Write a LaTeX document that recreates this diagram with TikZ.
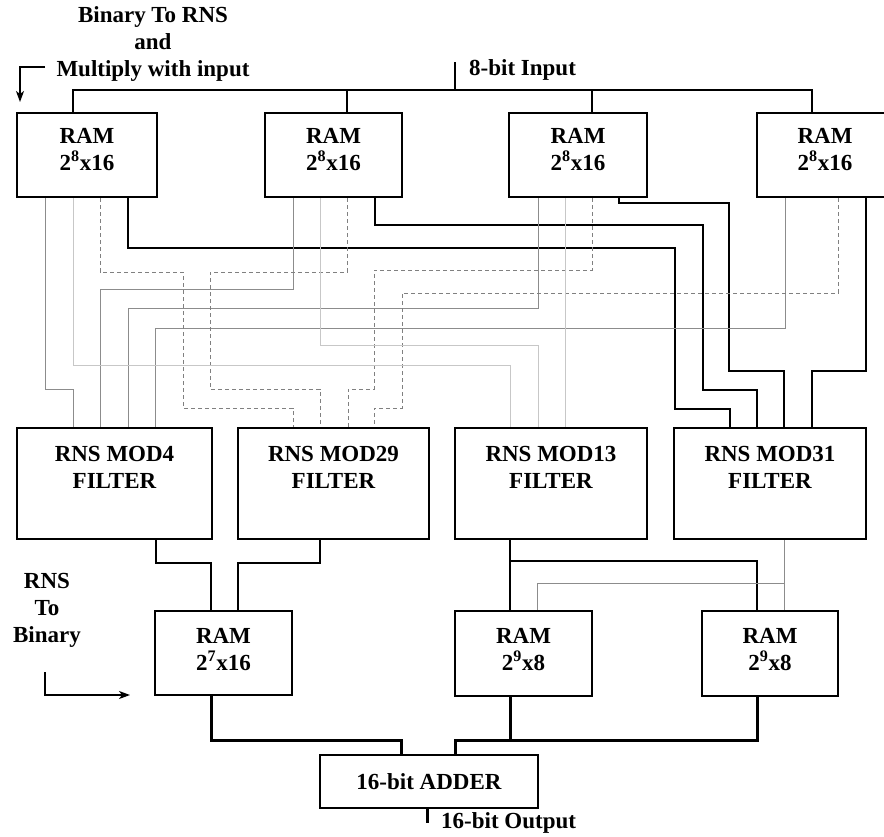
\documentclass[tikz,border=0pt]{standalone}
\usepackage{fontspec}
\setmainfont{Liberation Serif}
\usetikzlibrary{arrows.meta}
\begin{document}
\begin{tikzpicture}[x=1pt,y=-1pt,
  box/.style={draw=black, line width=2.2pt, inner sep=0pt},
  lbl/.style={font=\fontsize{23}{27}\selectfont\bfseries, align=center, inner sep=0pt},
  bus/.style={draw, line width=1.8pt},
  thk/.style={draw, line width=2pt},
  gry/.style={draw=black!45, line width=1pt},
  fnt/.style={draw=black!22, line width=0.9pt},
  dsh/.style={draw=black!50, line width=1pt, dash pattern=on 4pt off 3pt},
  outw/.style={draw, line width=3pt},
  arr/.style={draw, line width=1.4pt, -{Stealth[length=11pt,width=8pt,inset=3pt]}}
]
\clip (0,0) rectangle (884,836);
\fill[white] (0,0) rectangle (884,836);

% ---------- boxes ----------
\node[box, minimum width=140pt, minimum height=84pt] (ram1) at (87,155) {};
\node[box, minimum width=137pt, minimum height=84pt] (ram2) at (333.5,155) {};
\node[box, minimum width=138pt, minimum height=84pt] (ram3) at (578,155) {};
\node[box, minimum width=136pt, minimum height=84pt] (ram4) at (825,155) {};
\node[box, minimum width=195pt, minimum height=111pt] (mod4) at (114.5,483.5) {};
\node[box, minimum width=191pt, minimum height=111pt] (mod29) at (333.5,483.5) {};
\node[box, minimum width=192pt, minimum height=111pt] (mod13) at (551,483.5) {};
\node[box, minimum width=192pt, minimum height=111pt] (mod31) at (770,483.5) {};
\node[box, minimum width=137pt, minimum height=84pt] (rb1) at (223.5,653) {};
\node[box, minimum width=137pt, minimum height=85pt] (rb2) at (523.5,653.5) {};
\node[box, minimum width=136pt, minimum height=85pt] (rb3) at (770,653.5) {};
\node[box, minimum width=218pt, minimum height=53pt] (adder) at (429,781.5) {};

% ---------- texts ----------
\node[lbl] (ram1t) at (87,150) {RAM\\2\textsuperscript{8}x16};
\node[lbl] (ram2t) at (333.5,150) {RAM\\2\textsuperscript{8}x16};
\node[lbl] (ram3t) at (578,150) {RAM\\2\textsuperscript{8}x16};
\node[lbl] (ram4t) at (825,150) {RAM\\2\textsuperscript{8}x16};
\node[lbl] (mod4t) at (114.5,467) {RNS MOD4\\FILTER};
\node[lbl] (mod29t) at (333.5,467) {RNS MOD29\\FILTER};
\node[lbl] (mod13t) at (551,467) {RNS MOD13\\FILTER};
\node[lbl] (mod31t) at (770,467) {RNS MOD31\\FILTER};
\node[lbl] (rb1t) at (223.5,650) {RAM\\2\textsuperscript{7}x16};
\node[lbl] (rb2t) at (523.5,650) {RAM\\2\textsuperscript{9}x8};
\node[lbl] (rb3t) at (770,650) {RAM\\2\textsuperscript{9}x8};
\node[lbl] (addert) at (429,782) {16-bit ADDER};
\node[lbl] (b2r) at (153,44) {Binary To RNS\\and\\Multiply with input};
\node[lbl] (r2b) at (47,610) {RNS\\To\\Binary};
\node[lbl, anchor=west] (inl) at (469,70) {8-bit Input};
\node[lbl, anchor=west] (outl) at (441,823) {16-bit Output};

% ---------- side arrows ----------
\coordinate (a1s) at (45,67);
\coordinate (a1e) at (20,102);
\draw[arr] (a1s) -| (a1e);
\coordinate (a2s) at (45,672);
\coordinate (a2e) at (130,695);
\draw[arr] (a2s) |- (a2e);

% ---------- input bus ----------
\coordinate (inp) at (455,62);
\draw[bus] (inp) -- (455,90);
\draw[bus] (ram1.north -| 73,0) |- (812,90) -- (ram4.north -| 812,0);
\draw[bus] (347,90) -- (ram2.north -| 347,0);
\draw[bus] (592,90) -- (ram3.north -| 592,0);

% ---------- to MOD31 (thick) ----------
\draw[thk] (ram1.south -| 128,0) |- (675,248) |- (730,409) -- (mod31.north -| 730,0);
\draw[thk] (ram2.south -| 375,0) |- (703,225) |- (757,390) -- (mod31.north -| 757,0);
\draw[thk] (ram3.south -| 619,0) |- (729,203) |- (784,371) -- (mod31.north -| 784,0);
\draw[thk] (ram4.south -| 866,0) |- (812,371) -- (mod31.north -| 812,0);

% ---------- to MOD4 (grey) ----------
\draw[gry] (ram1.south -| 45,0) |- (73,389) -- (mod4.north -| 73,0);
\draw[gry] (ram2.south -| 293,0) |- (100,289) -- (mod4.north -| 100,0);
\draw[gry] (ram3.south -| 538,0) |- (128,308) -- (mod4.north -| 128,0);
\draw[gry] (ram4.south -| 785,0) |- (155,328) -- (mod4.north -| 155,0);

% ---------- to MOD29 (dashed) ----------
\draw[dsh] (ram1.south -| 100,0) |- (183,272) |- (293,408) -- (mod29.north -| 293,0);
\draw[dsh] (ram2.south -| 347,0) |- (210,272) |- (320,389) -- (mod29.north -| 320,0);
\draw[dsh] (ram3.south -| 592,0) |- (374,270) |- (348,389) -- (mod29.north -| 348,0);
\draw[dsh] (ram4.south -| 838,0) |- (402,293) |- (374,408) -- (mod29.north -| 374,0);

% ---------- to MOD13 (faint) ----------
\draw[fnt] (ram1.south -| 73,0) |- (510,365) -- (mod13.north -| 510,0);
\draw[fnt] (ram2.south -| 320,0) |- (538,345) -- (mod13.north -| 538,0);
\draw[fnt] (ram3.south -| 565,0) -- (mod13.north -| 565,0);

% ---------- filters to output RAMs ----------
\draw[thk] (mod4.south -| 156,0) |- (211,563) -- (rb1.north -| 211,0);
\draw[thk] (mod29.south -| 320,0) |- (238,563) -- (rb1.north -| 238,0);
\draw[thk] (mod13.south -| 510,0) -- (rb2.north -| 510,0);
\draw[thk] (510,561) -| (rb3.north -| 757,0);
\draw[gry] (mod31.south -| 784,0) -- (rb3.north -| 784,0);
\draw[gry] (784,583) -| (rb2.north -| 537,0);

% ---------- output RAMs to adder ----------
\draw[outw] (rb1.south -| 211,0) |- (401,740) -- (adder.north -| 401,0);
\draw[outw] (rb2.south -| 510,0) -- (510,740);
\draw[outw] (rb3.south -| 757,0) |- (455,740) -- (adder.north -| 455,0);
\coordinate (outp) at (427,823);
\draw[outw] (adder.south -| 427,0) -- (outp);
\end{tikzpicture}
\end{document}
